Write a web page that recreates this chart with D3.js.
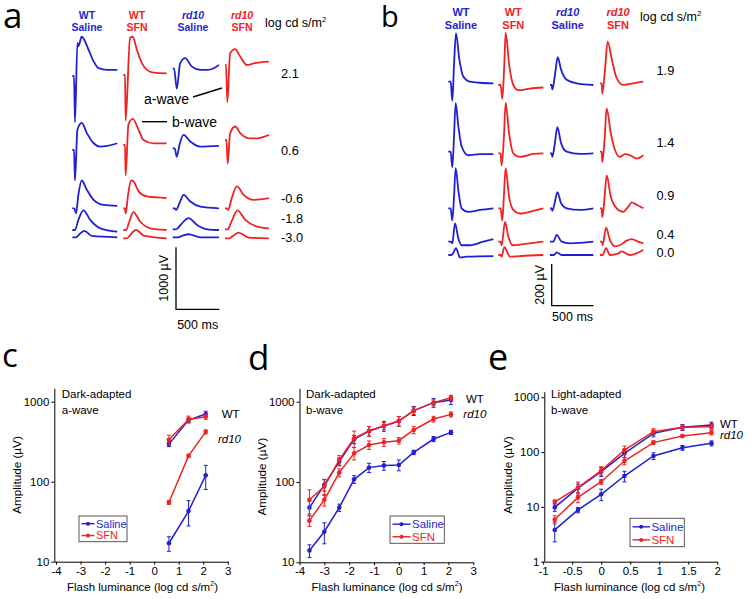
<!DOCTYPE html>
<html>
<head>
<meta charset="utf-8">
<script src="https://cdn.jsdelivr.net/npm/d3@7"></script>
<style>
  body { margin: 0; background: #fff; }
  svg text { font-family: "Liberation Sans", Arial, sans-serif; fill: #000; }
  svg .letter { font-family: "Open Sans", sans-serif; }
</style>
</head>
<body>
<svg class="figure" width="755" height="599"></svg>
<script>
// ---- data ----
const groups = ['WT Saline', 'WT SFN', 'rd10 Saline', 'rd10 SFN']
const scotopicLevels = ['2.1', '0.6', '-0.6', '-1.8', '-3.0']
const photopicLevels = ['1.9', '1.4', '0.9', '0.4', '0.0']

// ERG traces, [ms, µV] from trace start, tracesA[row][group]
const tracesA = [
  [
    [[0,0],[20,0],[31,-748],[59,535],[70,480],[109,633],[187,426],[246,235],[304,126],[402,98],[519,98]],
    [[0,0],[20,0],[27,-737],[78,600],[109,617],[156,410],[215,191],[273,82],[351,38],[499,27]],
    [[0,0],[16,0],[47,-328],[86,82],[144,164],[222,27],[320,-27],[398,-27],[476,0],[534,55]],
    [[0,0],[12,0],[27,-600],[59,191],[117,257],[176,137],[254,0],[332,27],[507,55]]
  ],
  [
    [[0,0],[20,0],[31,-491],[59,328],[109,437],[168,273],[246,109],[324,55],[402,66],[519,109]],
    [[0,0],[20,0],[27,-491],[59,328],[109,420],[176,246],[234,82],[351,27],[499,27]],
    [[0,0],[23,0],[47,-137],[78,55],[125,218],[203,109],[320,27],[534,38]],
    [[0,0],[16,0],[31,-382],[59,109],[117,218],[176,109],[273,27],[371,27],[507,82]]
  ],
  [
    [[0,0],[23,0],[43,-82],[70,218],[109,448],[168,300],[246,137],[363,55],[519,38]],
    [[0,0],[20,0],[27,-82],[55,218],[90,448],[117,437],[176,273],[273,191],[390,175],[499,164]],
    [[0,0],[23,0],[39,-27],[78,82],[125,218],[203,109],[320,27],[534,0]],
    [[0,0],[20,0],[35,-27],[78,164],[137,355],[215,218],[332,137],[507,164]]
  ],
  [
    [[0,0],[31,0],[70,164],[129,317],[207,164],[324,27],[519,-27]],
    [[0,0],[31,0],[70,137],[117,289],[195,137],[312,27],[499,0]],
    [[0,0],[39,0],[98,82],[183,180],[281,71],[398,0],[534,-11]],
    [[0,0],[31,0],[78,137],[144,306],[234,153],[371,44],[507,16]]
  ],
  [
    [[0,0],[39,0],[94,66],[140,104],[226,22],[519,0]],
    [[0,0],[39,0],[98,82],[148,137],[234,44],[499,0]],
    [[0,0],[59,0],[117,27],[183,49],[320,0],[534,0]],
    [[0,0],[47,0],[98,44],[156,93],[273,11],[507,0]]
  ]
]

const tracesB = [
  [
    [[0,0],[28,0],[48,-92],[68,75],[92,233],[132,108],[180,25],[260,0],[380,-5],[540,-8]],
    [[0,0],[28,0],[48,-67],[72,100],[88,250],[132,92],[180,0],[240,-25],[380,-17],[540,-12]],
    [[0,0],[20,0],[28,-22],[60,50],[92,133],[132,75],[200,25],[320,8],[520,0]],
    [[0,0],[20,0],[28,-50],[60,67],[92,200],[140,117],[200,25],[280,-8],[400,0],[520,8]]
  ],
  [
    [[0,0],[28,0],[48,-75],[68,67],[88,233],[120,125],[160,25],[240,-17],[380,-12],[540,-12]],
    [[0,0],[28,0],[40,-58],[68,83],[88,242],[128,100],[180,0],[260,-17],[420,-3],[540,0]],
    [[0,0],[20,0],[28,-17],[56,42],[88,125],[132,50],[200,8],[360,-3],[520,0]],
    [[0,0],[20,0],[28,-50],[56,67],[80,208],[128,92],[180,8],[240,-25],[300,-12],[360,-17],[440,-33],[520,-17]]
  ],
  [
    [[0,0],[28,0],[48,-58],[68,50],[88,192],[124,75],[160,0],[240,-17],[380,-8],[540,0]],
    [[0,0],[28,0],[48,-58],[68,67],[88,192],[128,58],[180,-8],[260,-25],[420,-12],[540,0]],
    [[0,0],[20,0],[28,-12],[56,25],[88,78],[132,25],[200,0],[360,-8],[520,0]],
    [[0,0],[20,0],[28,-42],[56,58],[80,158],[128,58],[200,0],[280,-17],[340,8],[380,28],[440,17],[520,0]]
  ],
  [
    [[0,0],[32,0],[48,-8],[80,88],[120,17],[160,-17],[260,-17],[420,0],[540,12]],
    [[0,0],[28,0],[40,-17],[80,95],[120,25],[172,-17],[300,-12],[540,0]],
    [[0,0],[40,0],[80,33],[140,0],[240,-8],[520,0]],
    [[0,0],[24,0],[32,-17],[72,67],[120,8],[180,-22],[240,-17],[320,5],[380,12],[460,0],[520,-8]]
  ],
  [
    [[0,0],[40,0],[60,10],[92,33],[140,-12],[220,-8],[540,-5]],
    [[0,0],[28,0],[40,-8],[72,38],[140,-8],[260,-5],[540,0]],
    [[0,0],[48,0],[80,13],[140,0],[520,0]],
    [[0,0],[32,0],[72,33],[120,0],[220,8],[260,17],[360,0],[460,12],[520,25]]
  ]
]

// summary plots (µV, mean and error)
const lumC = [0.6, 1.4, 2.1]
const cWtSaline = [295, 590, 700]
const cWtSalineErr = [20, 40, 60]
const cWtSfn = [335, 600, 650]
const cWtSfnErr = [45, 60, 50]
const cRdSaline = [17, 43, 120]
const cRdSalineErr = [3.5, 15, 40]
const cRdSfn = [55, 210, 420]
const cRdSfnErr = [3, 10, 25]

const lumD = [-3.6, -3, -2.4, -1.8, -1.2, -0.6, 0, 0.6, 1.4, 2.1]
const dWtSaline = [48, 92, 179, 340, 431, 498, 574, 773, 972, 1050]
const dWtSalineErr = [10, 15, 20, 40, 60, 70, 80, 100, 120, 130]
const dWtSfn = [60, 88, 188, 350, 431, 498, 574, 773, 972, 1120]
const dWtSfnErr = [20, 20, 25, 80, 60, 50, 80, 80, 80, 80]
const dRdSaline = [14, 24, 48, 108, 151, 160, 163, 234, 343, 415]
const dRdSalineErr = [2.5, 7, 5, 12, 20, 20, 25, 15, 25, 25]
const dRdSfn = [33, 60, 131, 228, 289, 312, 327, 444, 608, 695]
const dRdSfnErr = [5, 10, 15, 40, 35, 35, 30, 45, 50, 50]

const lumE = [-0.8, -0.4, 0, 0.4, 0.9, 1.4, 1.9]
const eWtSaline = [9.8, 22, 44, 95, 220, 283, 312]
const eWtSalineErr = [1.5, 4, 8, 15, 30, 35, 40]
const eWtSfn = [12.4, 22.4, 46, 109, 236, 283, 291]
const eWtSfnErr = [1, 6, 8, 20, 30, 30, 30]
const eRdSaline = [3.8, 8.8, 17, 36.6, 85, 120, 145]
const eRdSalineErr = [1.5, 1, 4, 8, 12, 12, 15]
const eRdSfn = [5.9, 14.9, 28.8, 68.7, 149, 197, 226]
const eRdSfnErr = [1, 3, 3, 10, 12, 12, 20]

const ticksCD = [-4, -3, -2, -1, 0, 1, 2, 3]
const ticksE = [-1, -0.5, 0, 0.5, 1, 1.5, 2]

// ---- layout ----
const BLUE = '#1f1fd4'
const RED = '#f02222'
const groupColor = [BLUE, RED, BLUE, RED]

const svg = d3.select('svg.figure')

const addText = (g, x, y, str, o = {}) => {
  const t = g.append('text')
    .attr('x', x).attr('y', y)
    .attr('font-size', o.size || 11.5)
    .attr('text-anchor', o.anchor || 'start')
    .text(str)
  if (o.weight) t.attr('font-weight', o.weight)
  if (o.italic) t.attr('font-style', 'italic')
  if (o.color) t.style('fill', o.color)
  if (o.cls) t.attr('class', o.cls)
  if (o.rotate) t.attr('transform', `rotate(-90, ${x}, ${y})`)
  return t
}

const addSup = (t, base, sup, tail, size) => {
  t.text(base)
  t.append('tspan').attr('dy', -size * 0.4).attr('font-size', size * 0.62).text(sup)
  if (tail) t.append('tspan').attr('dy', size * 0.4).text(tail)
}

// panel letters
addText(svg, 3, 28, 'a', { size: 35, cls: 'letter' })
addText(svg, 381, 27, 'b', { size: 29, cls: 'letter' })
addText(svg, 2, 367, 'c', { size: 33, cls: 'letter' })
addText(svg, 248, 370, 'd', { size: 35, cls: 'letter' })
addText(svg, 488, 370, 'e', { size: 36, cls: 'letter' })

// ---- trace panels ----
const tracePanel = cfg => {
  const g = svg.append('g')
  const x = d3.scaleLinear().domain([0, 500]).range([0, cfg.msPx])
  const y = d3.scaleLinear().domain([0, cfg.barUv]).range([0, -cfg.barPx])
  const line = d3.line().x(d => x(d[0])).y(d => y(d[1])).curve(d3.curveMonotoneX)

  groups.forEach((name, i) => {
    const [geno, treat] = name.split(' ')
    const c = groupColor[i]
    addText(g, cfg.headX[i], cfg.headY[0], geno, { size: cfg.headSize, weight: 'bold', italic: geno === 'rd10', color: c, anchor: 'middle' })
    addText(g, cfg.headX[i], cfg.headY[1], treat, { size: cfg.headSize, weight: 'bold', color: c, anchor: 'middle' })
  })
  const u = addText(g, cfg.unitPos[0], cfg.unitPos[1], '', { size: 12.5 })
  addSup(u, 'log cd s/m', '2', '', 12.5)

  cfg.levels.forEach((lvl, r) => {
    addText(g, cfg.levelX, cfg.levelY[r], lvl, { size: 12.8 })
    cfg.traces[r].forEach((tr, ci) => {
      g.append('path')
        .attr('transform', `translate(${cfg.colX[ci]}, ${cfg.baseY[r][ci]})`)
        .attr('d', line(tr))
        .attr('fill', 'none')
        .attr('stroke', groupColor[ci])
        .attr('stroke-width', 1.8)
        .attr('stroke-linejoin', 'round')
    })
  })

  // scale bar
  const [bx, by] = cfg.barPos
  g.append('path')
    .attr('d', `M${bx},${by + y(cfg.barUv)} V${by} H${bx + x(500)}`)
    .attr('fill', 'none').attr('stroke', '#000').attr('stroke-width', 1.3)
  addText(g, bx - 12, by + y(cfg.barUv) / 2, `${cfg.barUv} µV`, { size: 12.5, anchor: 'middle', rotate: true })
    .attr('dy', '0.35em')
  addText(g, bx + x(500) / 2, cfg.msLabelY, '500 ms', { size: 12.5, anchor: 'middle' })
  return g
}

const ga = tracePanel({
  traces: tracesA, levels: scotopicLevels,
  msPx: 43.3, barUv: 1000, barPx: 62,
  colX: [72.3, 123.3, 172.7, 225],
  baseY: [
    [76, 75, 68.3, 65],
    [150, 145, 148.3, 140],
    [208.3, 208.3, 208.3, 208.3],
    [230, 230, 229.3, 229.3],
    [237.3, 238.3, 237.3, 238.3]
  ],
  headX: [87, 137, 193, 242], headY: [19, 31], headSize: 10.5,
  unitPos: [265, 27],
  levelX: 281, levelY: [78, 155, 203, 223, 242],
  barPos: [176, 309.3], msLabelY: 329
})

// a-wave / b-wave callouts
addText(ga, 144, 104, 'a-wave', { size: 14 })
addText(ga, 172, 127, 'b-wave', { size: 14 })
ga.append('path').attr('d', 'M193,97 L222,88').attr('stroke', '#000').attr('stroke-width', 1.4)
ga.append('path').attr('d', 'M142,121.7 L167,121.7').attr('stroke', '#000').attr('stroke-width', 1.4)

tracePanel({
  traces: tracesB, levels: photopicLevels,
  msPx: 41.7, barUv: 200, barPx: 41.7,
  colX: [448.3, 498.3, 550, 600],
  baseY: [
    [81.7, 85, 85, 83.3],
    [151.7, 153.3, 153.3, 151.7],
    [208.3, 208.3, 208.3, 208.3],
    [241.7, 241.7, 241.7, 241.7],
    [255, 255, 255, 255]
  ],
  headX: [461, 513.3, 567.7, 618], headY: [16, 29], headSize: 11,
  unitPos: [640, 21],
  levelX: 656.5, levelY: [75, 146.7, 200, 239.3, 257.3],
  barPos: [551.7, 305.7], msLabelY: 321
})

// ---- intensity-response plots ----
const plotPanel = cfg => {
  const g = svg.append('g')
  const x = d3.scaleLinear().domain(cfg.xDomain).range(cfg.xRange)
  const y = d3.scaleLog().domain(cfg.yDomain).range(cfg.yRange)

  const xAxis = g.append('g')
    .attr('transform', `translate(0, ${cfg.yRange[0]})`)
    .call(d3.axisBottom(x).tickValues(cfg.xTicks).tickSize(3).tickSizeOuter(0).tickPadding(2)
      .tickFormat(d => String(d)))
  const yAxis = g.append('g')
    .attr('transform', `translate(${cfg.xRange[0]}, 0)`)
    .call(d3.axisLeft(y).tickValues(cfg.yTicks).tickSize(3).tickSizeOuter(0).tickPadding(2)
      .tickFormat(d3.format('d')))
  ;[xAxis, yAxis].forEach(a => {
    a.selectAll('text').attr('font-size', 11.5).attr('font-family', null).style('fill', '#000')
    a.selectAll('path, line').attr('stroke', '#000').attr('stroke-width', 1)
  })

  const line = d3.line().x(d => x(d[0])).y(d => y(d[1]))
  cfg.series.forEach(s => {
    const pts = cfg.lum.map((l, i) => [l, s.values[i], s.err[i]])
    const eb = g.append('g').attr('stroke', s.color).attr('stroke-width', 1)
    pts.forEach(p => {
      const lo = y(Math.max(p[1] - p[2], cfg.yDomain[0]))
      const hi = y(p[1] + p[2])
      const px = x(p[0])
      eb.append('path').attr('d', `M${px},${lo} V${hi} M${px - 2},${lo} H${px + 2} M${px - 2},${hi} H${px + 2}`)
    })
    g.append('path').attr('d', line(pts))
      .attr('fill', 'none').attr('stroke', s.color).attr('stroke-width', 1.5)
    g.selectAll(null).data(pts).enter().append('circle')
      .attr('cx', d => x(d[0])).attr('cy', d => y(d[1])).attr('r', 2.3)
      .attr('fill', s.color)
  })

  addText(g, cfg.titlePos[0], cfg.titlePos[1], cfg.title[0])
  addText(g, cfg.titlePos[0], cfg.titlePos[1] + 16.3, cfg.title[1])
  addText(g, cfg.wtPos[0], cfg.wtPos[1], 'WT')
  addText(g, cfg.rdPos[0], cfg.rdPos[1], 'rd10', { italic: true })

  addText(g, cfg.yLabelPos[0], cfg.yLabelPos[1], 'Amplitude (µV)', { anchor: 'middle', rotate: true, size: 11.7 })
    .attr('dy', '0.35em')
  const xl = addText(g, cfg.xLabelX, 590.5, '', { anchor: 'middle' })
  addSup(xl, 'Flash luminance (log cd s/m', '2', ')', 11.5)

  // legend
  const [lx, ly, lw, lh] = cfg.legend
  const lg = g.append('g')
  lg.append('rect').attr('x', lx).attr('y', ly).attr('width', lw).attr('height', lh)
    .attr('fill', '#fff').attr('stroke', '#444').attr('stroke-width', 0.9)
  ;[['Saline', BLUE], ['SFN', RED]].forEach(([name, c], i) => {
    const yy = ly + lh * (i === 0 ? 0.3 : 0.76)
    lg.append('line').attr('x1', lx + 2.5).attr('x2', lx + 2.5 + cfg.legLine)
      .attr('y1', yy).attr('y2', yy).attr('stroke', c).attr('stroke-width', 1.4)
    lg.append('circle').attr('cx', lx + 2.5 + cfg.legLine / 2).attr('cy', yy).attr('r', 2).attr('fill', c)
    addText(lg, lx + 4 + cfg.legLine, yy, name, { size: cfg.legSize, color: c }).attr('dy', '0.36em')
  })
  return g
}

plotPanel({
  xDomain: [-4.07, 3.02], xRange: [54.3, 228.3],
  yDomain: [10, 1470], yRange: [561.7, 388.3],
  xTicks: ticksCD, yTicks: [10, 100, 1000],
  lum: lumC,
  series: [
    { values: cWtSaline, err: cWtSalineErr, color: BLUE },
    { values: cWtSfn, err: cWtSfnErr, color: RED },
    { values: cRdSaline, err: cRdSalineErr, color: BLUE },
    { values: cRdSfn, err: cRdSfnErr, color: RED }
  ],
  title: ['Dark-adapted', 'a-wave'], titlePos: [61.7, 397.7],
  wtPos: [221.7, 417.5], rdPos: [218, 442.5],
  yLabelPos: [16.7, 475], xLabelX: 142.5,
  legend: [79, 516, 48, 25.7], legLine: 13, legSize: 11
})

plotPanel({
  xDomain: [-4, 3], xRange: [299.5, 473.3],
  yDomain: [10, 1468], yRange: [562.3, 388.3],
  xTicks: ticksCD, yTicks: [10, 100, 1000],
  lum: lumD,
  series: [
    { values: dWtSaline, err: dWtSalineErr, color: BLUE },
    { values: dWtSfn, err: dWtSfnErr, color: RED },
    { values: dRdSaline, err: dRdSalineErr, color: BLUE },
    { values: dRdSfn, err: dRdSfnErr, color: RED }
  ],
  title: ['Dark-adapted', 'b-wave'], titlePos: [306, 397.7],
  wtPos: [466, 403.3], rdPos: [463.3, 417.7],
  yLabelPos: [261.7, 476.7], xLabelX: 387,
  legend: [390, 516, 54.3, 27.3], legLine: 18, legSize: 11.5
})

plotPanel({
  xDomain: [-0.98, 2], xRange: [544.3, 717.3],
  yDomain: [1, 1265], yRange: [561.7, 391.7],
  xTicks: ticksE, yTicks: [1, 10, 100, 1000],
  lum: lumE,
  series: [
    { values: eWtSaline, err: eWtSalineErr, color: BLUE },
    { values: eWtSfn, err: eWtSfnErr, color: RED },
    { values: eRdSaline, err: eRdSalineErr, color: BLUE },
    { values: eRdSfn, err: eRdSfnErr, color: RED }
  ],
  title: ['Light-adapted', 'b-wave'], titlePos: [551, 397.7],
  wtPos: [720, 428.3], rdPos: [720, 439.3],
  yLabelPos: [508.3, 475], xLabelX: 629.5,
  legend: [630, 518.3, 54.3, 28.4], legLine: 17.4, legSize: 11.5
})
</script>
</body>
</html>
